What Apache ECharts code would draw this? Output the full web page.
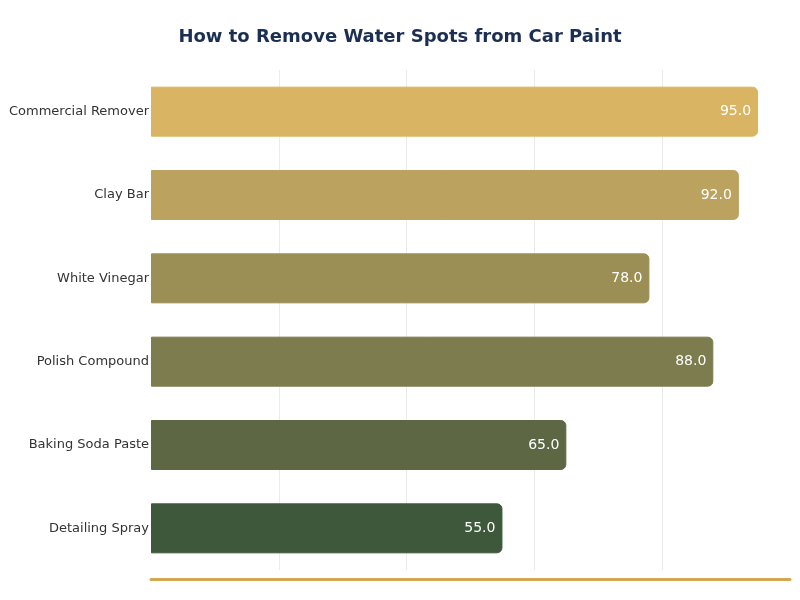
<!DOCTYPE html>
<html>
<head>
<meta charset="utf-8">
<style>
  html, body { margin: 0; padding: 0; background: #fff; }
  #chart { width: 800px; height: 600px; }
</style>
<script src="https://cdn.jsdelivr.net/npm/echarts@6/dist/echarts.min.js"></script>
</head>
<body>
<div id="chart"></div>
<script>
var methods = ['Commercial Remover', 'Clay Bar', 'White Vinegar', 'Polish Compound', 'Baking Soda Paste', 'Detailing Spray'];
var scores = [95, 92, 78, 88, 65, 55];
var barColors = ['#D9B563', '#BBA25E', '#9C8F56', '#7C7C4F', '#5D6744', '#3E583B'];

var chart = echarts.init(document.getElementById('chart'));

// top category first, so the y axis is inverted
var seriesData = scores.map(function (v, i) {
    return {
        value: v,
        itemStyle: { color: barColors[i], borderColor: barColors[i] }
    };
});

chart.setOption({
    backgroundColor: '#ffffff',
    textStyle: { fontFamily: 'DejaVu Sans' },
    title: {
        text: 'How to Remove Water Spots from Car Paint',
        left: 'center',
        top: 23,
        textStyle: { fontSize: 18, fontWeight: 'bold', color: '#1B2F52', fontFamily: 'DejaVu Sans' }
    },
    grid: { left: 151, right: 10, top: 70, bottom: 30, outerBoundsMode: 'none' },
    xAxis: {
        type: 'value',
        min: 0,
        max: 100,
        interval: 20,
        offset: 9,
        axisLine: { show: true, lineStyle: { color: '#D4A853', width: 3 } },
        axisTick: { show: false },
        axisLabel: { show: false },
        splitLine: { show: true, showMinLine: false, showMaxLine: false, lineStyle: { color: '#EBEBEB', width: 1 } }
    },
    yAxis: {
        type: 'category',
        data: methods,
        inverse: true,
        axisLine: { show: false },
        axisTick: { show: false },
        splitLine: { show: false },
        axisLabel: { color: '#333333', fontSize: 13, margin: 2 }
    },
    series: [{
        type: 'bar',
        data: seriesData,
        barWidth: '60%',
        itemStyle: { borderRadius: [0, 5, 5, 0], borderWidth: 1 },
        label: {
            show: true,
            position: 'insideRight',
            distance: 7,
            color: '#ffffff',
            fontSize: 14,
            formatter: function (p) { return p.value.toFixed(1); }
        }
    }]
});
</script>
</body>
</html>
